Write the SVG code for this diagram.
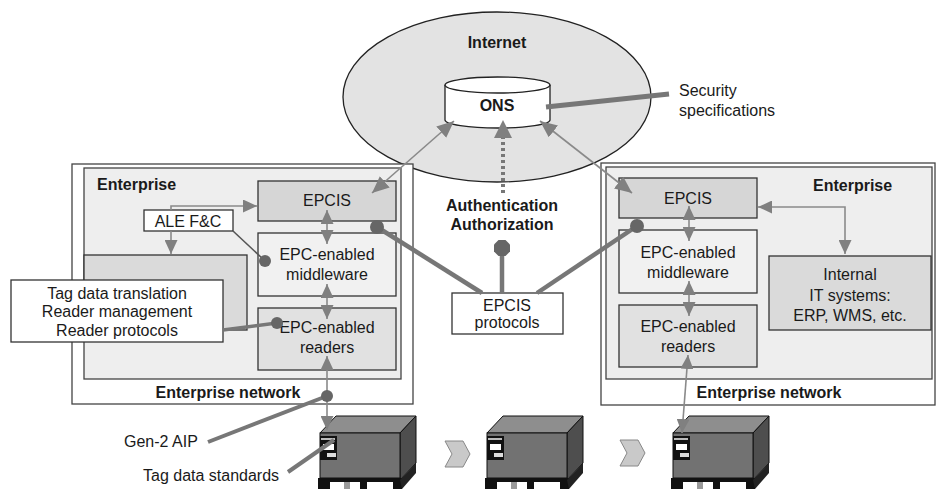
<svg xmlns="http://www.w3.org/2000/svg" xmlns:xlink="http://www.w3.org/1999/xlink" width="937" height="489" viewBox="0 0 937 489">
  <style>
    text { font-family: "Liberation Sans", Arial, sans-serif; font-size: 16px; fill: #1a1a1a; }
    .b { font-weight: bold; }
    .c { text-anchor: middle; }
    .outer { fill: #ffffff; stroke: #444; stroke-width: 1.3; }
    .inner { fill: #eeeeee; stroke: #444; stroke-width: 1.3; }
    .epcis { fill: #d6d6d6; stroke: #333; stroke-width: 1.3; }
    .mid { fill: #f1f1f1; stroke: #333; stroke-width: 1.3; }
    .rdr { fill: #e1e1e1; stroke: #333; stroke-width: 1.3; }
    .gbox { fill: #dadada; stroke: #333; stroke-width: 1.3; }
    .wbox { fill: #ffffff; stroke: #333; stroke-width: 1.3; }
    .thin { fill: none; stroke: #8a8a8a; stroke-width: 1.6; }
    .thick { fill: none; stroke: #777; stroke-width: 4.5; }
    .dot { fill: #666; }
  </style>
  <defs>
    <marker id="ah" viewBox="0 0 14 13" refX="14" refY="6.5" markerWidth="14" markerHeight="13" markerUnits="userSpaceOnUse" orient="auto-start-reverse">
      <path d="M0,0 L14,6.5 L0,13 Z" fill="#808080"/>
    </marker>
    <marker id="ahL" viewBox="0 0 17 15" refX="17" refY="7.5" markerWidth="17" markerHeight="15" markerUnits="userSpaceOnUse" orient="auto-start-reverse">
      <path d="M0,0 L17,7.5 L0,15 Z" fill="#808080"/>
    </marker>
    <g id="pallet">
      <!-- top face -->
      <polygon points="0,0 16,-17 96,-17 80,0" fill="#8e8e8e" stroke="#111" stroke-width="1"/>
      <!-- right face -->
      <polygon points="80,0 96,-17 96,30 80,47" fill="#4e4e4e" stroke="#111" stroke-width="1"/>
      <!-- front face -->
      <rect x="0" y="0" width="80" height="45" fill="#727272" stroke="#111" stroke-width="1"/>
      <!-- tag label -->
      <rect x="0" y="3" width="17" height="24" fill="#111"/>
      <rect x="1" y="5" width="14" height="2" fill="#bbb"/>
      <rect x="3" y="11" width="11" height="6" fill="#fff"/>
      <rect x="7" y="20" width="9" height="4" fill="#ddd"/>
      <!-- pallet base -->
      <rect x="-2" y="45" width="84" height="12" fill="#111"/>
      <polygon points="80,47 96,30 96,40 82,56" fill="#222"/>
      <rect x="10" y="49" width="30" height="8" fill="#fff"/>
      <rect x="47" y="49" width="26" height="8" fill="#fff"/>
      <rect x="24" y="49" width="6" height="8" fill="#999"/>
    </g>
  </defs>

  <!-- Internet cloud with ONS -->
  <g id="internet">
    <ellipse cx="497" cy="97" rx="154" ry="85" fill="#e3e3e3" stroke="#222" stroke-width="1.3"/>
    <text class="b c" x="497" y="48">Internet</text>
  </g>
  <g id="ons">
    <path d="M445,85 V120 A52.5,8 0 0 0 550,120 V85" fill="#fff" stroke="#222" stroke-width="1.3"/>
    <ellipse cx="497.5" cy="85" rx="52.5" ry="8" fill="#fff" stroke="#222" stroke-width="1.3"/>
    <text class="b c" x="497" y="111">ONS</text>
  </g>
  <g id="security">
    <text x="679" y="96">Security</text>
    <text x="679" y="116">specifications</text>
  </g>

  <!-- Left enterprise -->
  <g id="left-network">
    <rect class="outer" x="72" y="164" width="341" height="240"/>
    <rect class="inner" x="84" y="168" width="317" height="211"/>
    <text class="b" x="97" y="190">Enterprise</text>
    <text class="b c" x="228" y="398">Enterprise network</text>
  </g>
  <g id="left-software">
    <rect class="gbox" x="84" y="255" width="163" height="75"/>
  </g>
  <g id="left-epcis">
    <rect class="epcis" x="258" y="181" width="138" height="40"/>
    <text class="c" x="327" y="206">EPCIS</text>
  </g>
  <g id="left-middleware">
    <rect class="mid" x="258" y="233" width="138" height="63"/>
    <text class="c" x="327" y="260">EPC-enabled</text>
    <text class="c" x="327" y="280">middleware</text>
  </g>
  <g id="left-readers">
    <rect class="rdr" x="258" y="308" width="138" height="62"/>
    <text class="c" x="327" y="333">EPC-enabled</text>
    <text class="c" x="327" y="353">readers</text>
  </g>
  <g id="ale">
    <rect class="wbox" x="144" y="210" width="89" height="21"/>
    <text class="c" x="188" y="227">ALE F&amp;C</text>
  </g>
  <g id="tag-data">
    <rect class="wbox" x="11" y="280" width="212" height="62"/>
    <text class="c" x="117" y="299">Tag data translation</text>
    <text class="c" x="117" y="317">Reader management</text>
    <text class="c" x="117" y="336">Reader protocols</text>
  </g>

  <!-- Right enterprise -->
  <g id="right-network">
    <rect class="outer" x="601" y="163" width="334" height="242"/>
    <rect class="inner" x="606" y="167" width="326" height="212"/>
    <text class="b" x="813" y="191">Enterprise</text>
    <text class="b c" x="769" y="398">Enterprise network</text>
  </g>
  <g id="right-epcis">
    <rect class="epcis" x="619" y="178" width="138" height="40"/>
    <text class="c" x="688" y="204">EPCIS</text>
  </g>
  <g id="right-middleware">
    <rect class="mid" x="619" y="230" width="138" height="63"/>
    <text class="c" x="688" y="258">EPC-enabled</text>
    <text class="c" x="688" y="278">middleware</text>
  </g>
  <g id="right-readers">
    <rect class="rdr" x="619" y="305" width="138" height="62"/>
    <text class="c" x="688" y="332">EPC-enabled</text>
    <text class="c" x="688" y="352">readers</text>
  </g>
  <g id="internal-it">
    <rect class="gbox" x="769" y="256" width="162" height="74"/>
    <text class="c" x="850" y="280">Internal</text>
    <text class="c" x="850" y="301">IT systems:</text>
    <text class="c" x="850" y="321">ERP, WMS, etc.</text>
  </g>

  <!-- Centre -->
  <g id="auth">
    <text class="b c" x="502" y="211">Authentication</text>
    <text class="b c" x="502" y="230">Authorization</text>
  </g>
  <g id="epcis-protocols">
    <rect class="wbox" x="452" y="293" width="111" height="41"/>
    <text class="c" x="507" y="311">EPCIS</text>
    <text class="c" x="507" y="328">protocols</text>
  </g>

  <!-- Standards labels -->
  <g id="gen2">
    <text x="124" y="447">Gen-2 AIP</text>
  </g>
  <g id="tag-standards">
    <text x="143" y="481">Tag data standards</text>
  </g>

  <!-- Tagged cases on pallets and flow chevrons -->
  <g id="pallet-1"><use xlink:href="#pallet" x="320" y="433"/></g>
  <g id="chevron-1"><polygon points="445,441 463,441 470,454 463,467 445,467 452,454" fill="#c9c9c9" stroke="#888" stroke-width="1"/></g>
  <g id="pallet-2"><use xlink:href="#pallet" x="487" y="433"/></g>
  <g id="chevron-2"><polygon points="620,440 638,440 645,453 638,466 620,466 627,453" fill="#c9c9c9" stroke="#888" stroke-width="1"/></g>
  <g id="pallet-3"><use xlink:href="#pallet" x="673" y="433"/></g>

  <!-- Connectors -->
  <g id="connectors">
    <!-- ONS links -->
    <line class="thin" x1="372" y1="193" x2="454" y2="121" marker-start="url(#ahL)" marker-end="url(#ahL)"/>
    <line class="thin" x1="540" y1="121" x2="632" y2="193" marker-start="url(#ahL)" marker-end="url(#ahL)"/>
    <line x1="503" y1="193" x2="503" y2="137" stroke="#777" stroke-width="4" stroke-dasharray="3,3"/>
    <polygon points="503,120 494,138 512,138" fill="#808080"/>
    <line x1="546" y1="107" x2="669" y2="94" stroke="#777" stroke-width="5"/>

    <!-- Left stack -->
    <line class="thin" x1="327" y1="210" x2="327" y2="244" marker-start="url(#ah)" marker-end="url(#ah)"/>
    <line class="thin" x1="327" y1="284" x2="327" y2="319" marker-start="url(#ah)" marker-end="url(#ah)"/>
    <line class="thin" x1="327" y1="356" x2="327" y2="430" marker-start="url(#ah)" marker-end="url(#ah)"/>
    <path class="thin" d="M171,210 V206 H257" marker-end="url(#ah)"/>
    <path class="thin" d="M171,231 V254" marker-end="url(#ah)"/>
    <line x1="233" y1="231" x2="264" y2="260" stroke="#555" stroke-width="1.6"/>
    <circle class="dot" cx="265" cy="261" r="6"/>
    <line x1="223" y1="330" x2="277" y2="323" stroke="#777" stroke-width="3.5"/>
    <circle class="dot" cx="277" cy="323" r="6"/>

    <!-- Right stack -->
    <line class="thin" x1="689" y1="206" x2="689" y2="241" marker-start="url(#ah)" marker-end="url(#ah)"/>
    <line class="thin" x1="689" y1="281" x2="689" y2="316" marker-start="url(#ah)" marker-end="url(#ah)"/>
    <line class="thin" x1="688" y1="355" x2="682" y2="433" marker-start="url(#ah)" marker-end="url(#ah)"/>
    <path class="thin" d="M758,207 H845 V254" marker-start="url(#ah)" marker-end="url(#ah)"/>

    <!-- EPCIS protocol links -->
    <line class="thick" x1="377" y1="227" x2="482" y2="293"/>
    <circle class="dot" cx="377" cy="227" r="7"/>
    <line class="thick" x1="637" y1="226" x2="537" y2="293"/>
    <circle class="dot" cx="637" cy="226" r="7"/>
    <line class="thick" x1="502" y1="293" x2="502" y2="250"/>
    <polygon class="dot" points="498.5,240 505.5,240 510,244.5 510,251.5 505.5,256 498.5,256 494,251.5 494,244.5"/>

    <!-- Air interface and tag data -->
    <line x1="327" y1="396" x2="208" y2="442" stroke="#777" stroke-width="4"/>
    <circle class="dot" cx="327" cy="396" r="6"/>
    <line x1="288" y1="472" x2="334" y2="440" stroke="#777" stroke-width="4"/>
  </g>
</svg>
